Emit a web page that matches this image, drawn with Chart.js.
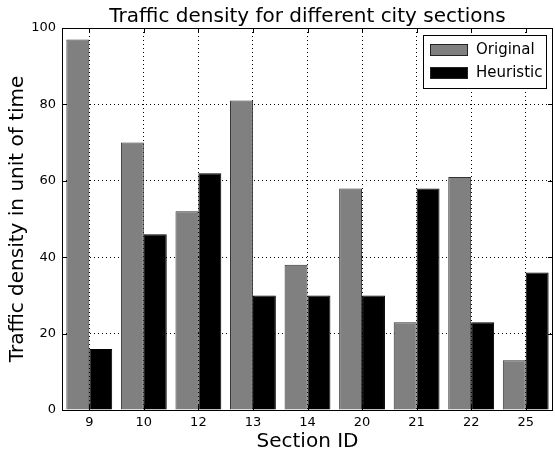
<!DOCTYPE html>
<html>
<head>
<meta charset="utf-8">
<script src="https://cdn.jsdelivr.net/npm/chart.js@4.4.0/dist/chart.umd.min.js"></script>
<style>
  html, body { margin: 0; padding: 0; background: #fff; }
  #wrap { width: 555px; height: 455px; }
</style>
</head>
<body>
<div id="wrap"><canvas id="chart" width="555" height="455"></canvas></div>
<script>
// data
let sections = ['9', '10', '12', '13', '14', '20', '21', '22', '25'];
let original = [97, 70, 52, 81, 38, 58, 23, 61, 13];
let heuristic = [16, 46, 62, 30, 30, 30, 58, 23, 36];
let yTicks = [0, 20, 40, 60, 80, 100];

let titleText = 'Traffic density for different city sections';
let xTitle = 'Section ID';
let yTitle = 'Traffic density in unit of time';
let fontName = "'DejaVu Sans', sans-serif";

// frame, inward ticks, titles and legend, matplotlib classic look
let framePlugin = {
  id: 'frame',
  afterDraw(chart) {
    let ctx = chart.ctx;
    let a = chart.chartArea;
    let xs = chart.scales.x, ys = chart.scales.y;
    ctx.save();
    ctx.strokeStyle = '#000';
    ctx.lineWidth = 1;
    ctx.beginPath();
    for (let i = 0; i < xs.ticks.length; i++) {
      let px = Math.round(xs.getPixelForTick(i)) + 0.5;
      ctx.moveTo(px, a.bottom); ctx.lineTo(px, a.bottom - 5);
      ctx.moveTo(px, a.top); ctx.lineTo(px, a.top + 5);
    }
    for (let i = 0; i < ys.ticks.length; i++) {
      let py = Math.round(ys.getPixelForTick(i)) + 0.5;
      ctx.moveTo(a.left, py); ctx.lineTo(a.left + 5, py);
      ctx.moveTo(a.right, py); ctx.lineTo(a.right - 5, py);
    }
    ctx.stroke();
    ctx.strokeRect(Math.round(a.left) + 0.5, Math.round(a.top) + 0.5,
      Math.round(a.right - a.left) - 1, Math.round(a.bottom - a.top));

    let cx = (a.left + a.right) / 2;
    ctx.fillStyle = '#000';
    ctx.textAlign = 'center';
    ctx.textBaseline = 'alphabetic';
    ctx.font = '20px ' + fontName;
    ctx.fillText(titleText, cx, 22);
    ctx.fillText(xTitle, cx, 447);
    ctx.save();
    ctx.translate(23, (a.top + a.bottom) / 2);
    ctx.rotate(-Math.PI / 2);
    ctx.fillText(yTitle, 0, 0);
    ctx.restore();

    // legend box
    let lx = 423, ly = 35, lw = 123, lh = 53;
    ctx.fillStyle = '#fff';
    ctx.fillRect(lx, ly, lw, lh);
    ctx.strokeRect(lx + 0.5, ly + 0.5, lw, lh);
    ctx.font = '15px ' + fontName;
    ctx.textAlign = 'left';
    ctx.textBaseline = 'middle';
    chart.data.datasets.forEach((ds, i) => {
      let ry = ly + 9 + i * 23;
      ctx.fillStyle = ds.backgroundColor;
      ctx.fillRect(lx + 7, ry, 38, 12);
      ctx.strokeStyle = '#222';
      ctx.strokeRect(lx + 7.5, ry + 0.5, 37, 11);
      ctx.fillStyle = '#000';
      ctx.fillText(ds.label, lx + 53, ry + 6);
    });
    ctx.restore();
  }
};

new Chart(document.getElementById('chart'), {
  type: 'bar',
  data: {
    labels: sections,
    datasets: [
      { label: 'Original', data: original, backgroundColor: '#808080', borderColor: '#333', borderWidth: 1 },
      { label: 'Heuristic', data: heuristic, backgroundColor: '#000000', borderColor: '#000', borderWidth: 1 }
    ]
  },
  plugins: [framePlugin],
  options: {
    responsive: false,
    animation: false,
    layout: { padding: { left: 0, top: 28, right: 2, bottom: 0 } },
    datasets: { bar: { categoryPercentage: 0.84, barPercentage: 1.0 } },
    plugins: { legend: { display: false }, title: { display: false }, tooltip: { enabled: false } },
    scales: {
      x: {
        afterFit(s) { s.height = 45; },
        grid: { color: '#000', lineWidth: 1, drawTicks: false, offset: false },
        border: { display: false, dash: [1, 3] },
        ticks: { color: '#000', font: { family: fontName, size: 13 }, padding: 5, maxRotation: 0 }
      },
      y: {
        min: 0, max: 100,
        afterFit(s) { s.width = 62; },
        afterBuildTicks(s) { s.ticks = yTicks.map(v => ({ value: v })); },
        grid: { color: '#000', lineWidth: 1, drawTicks: false },
        border: { display: false, dash: [1, 3] },
        ticks: { color: '#000', font: { family: fontName, size: 13 }, padding: 6 }
      }
    }
  }
});
</script>
</body>
</html>
